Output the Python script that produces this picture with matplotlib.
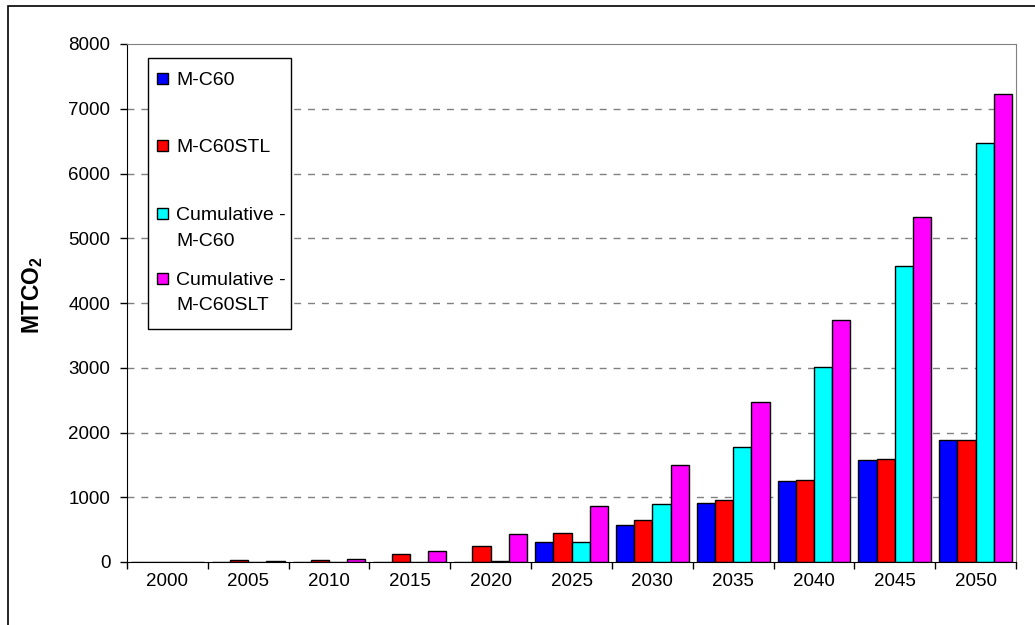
import numpy as np
import matplotlib
matplotlib.use("Agg")
import matplotlib.pyplot as plt
from matplotlib.patches import Rectangle

plt.rcParams["font.family"] = ["Liberation Sans", "DejaVu Sans"]
plt.rcParams["mathtext.fontset"] = "custom"
plt.rcParams["mathtext.rm"] = "Liberation Sans"
plt.rcParams["mathtext.bf"] = "Liberation Sans:bold"

# --- dados ---
anos = ["2000", "2005", "2010", "2015", "2020", "2025", "2030", "2035", "2040", "2045", "2050"]
m_c60 = [0, 0, 0, 0, 0, 305, 570, 910, 1250, 1570, 1885]
m_c60stl = [0, 25, 25, 125, 250, 450, 650, 955, 1270, 1595, 1885]
cum_m_c60 = [0, 0, 0, 0, 15, 305, 890, 1780, 3010, 4565, 6470]
cum_m_c60slt = [0, 20, 50, 175, 425, 865, 1495, 2470, 3740, 5330, 7225]

series = [m_c60, m_c60stl, cum_m_c60, cum_m_c60slt]
nomes = ["M-C60", "M-C60STL", "Cumulative -\nM-C60", "Cumulative -\nM-C60SLT"]
cores = ["#0000FF", "#FF0000", "#00FFFF", "#FF00FF"]

W, H = 1035, 625
fig = plt.figure(figsize=(W / 100, H / 100), dpi=100)
ax = fig.add_axes([127 / W, 1 - 562 / H, (1016 - 127) / W, (562 - 44) / H])


def px(xp, yp):
    # pixel (origem no canto superior esquerdo) -> fração da figura
    return xp / W, 1 - yp / H


x = np.arange(len(anos))
w = 0.225
for k, (vals, cor) in enumerate(zip(series, cores)):
    ax.bar(x + (k - 1.5) * w, vals, width=w, color=cor, edgecolor="black",
           linewidth=1, zorder=3)

ax.set_xlim(-0.5, len(anos) - 0.5)
ax.set_ylim(0, 8000)
ax.set_yticks(np.arange(0, 8001, 1000))
ax.set_xticks(x)
ax.set_xticklabels(anos)
ax.set_xticks(np.arange(-0.5, len(anos), 1), minor=True)
ax.tick_params(axis="x", which="major", length=0, pad=8, labelsize=13.5)
ax.tick_params(axis="x", which="minor", length=5, width=1, direction="out")
ax.tick_params(axis="y", length=5, width=1, direction="out", pad=7, labelsize=13.5)

# grade tracejada (1000..7000)
for v in range(1000, 8000, 1000):
    ax.axhline(v, color="#808080", linewidth=1, linestyle=(0, (5, 5)), zorder=1)

for s in ["top", "right"]:
    ax.spines[s].set_color("#808080")
for s in ["left", "bottom"]:
    ax.spines[s].set_color("black")
ax.spines["bottom"].set_zorder(4)

fig.text(*px(33, 295), r"MTCO$_\mathbf{2}$", rotation=90,
         ha="center", va="center", fontsize=16.5, fontweight="bold")

# --- legenda desenhada à mão (estilo Excel: marcador na primeira linha) ---
x0, y0, x1, y1 = 148, 58, 291, 329
fx, fy = px(x0, y1)
fig.patches.append(Rectangle((fx, fy), (x1 - x0) / W, (y1 - y0) / H, transform=fig.transFigure,
                             facecolor="white", edgecolor="black", linewidth=1, zorder=5))
linha1 = [78, 145, 213, 278]
passo = 25.5
for nome, cor, yc in zip(nomes, cores, linha1):
    mx, my = px(157, yc + 5.5)
    fig.patches.append(Rectangle((mx, my), 11 / W, 11 / H, transform=fig.transFigure,
                                 facecolor=cor, edgecolor="black", linewidth=1, zorder=6))
    for i, txt in enumerate(nome.split("\n")):
        fig.text(*px(176, yc + i * passo + 7), txt, ha="left", va="baseline",
                 fontsize=14, zorder=7)

# moldura externa da figura
fig.patches.append(Rectangle((8 / W, -0.05), 2, 1 - 6 / H + 0.05, transform=fig.transFigure,
                             fill=False, edgecolor="black", linewidth=1.2))

fig.savefig("out.png", dpi=100)
